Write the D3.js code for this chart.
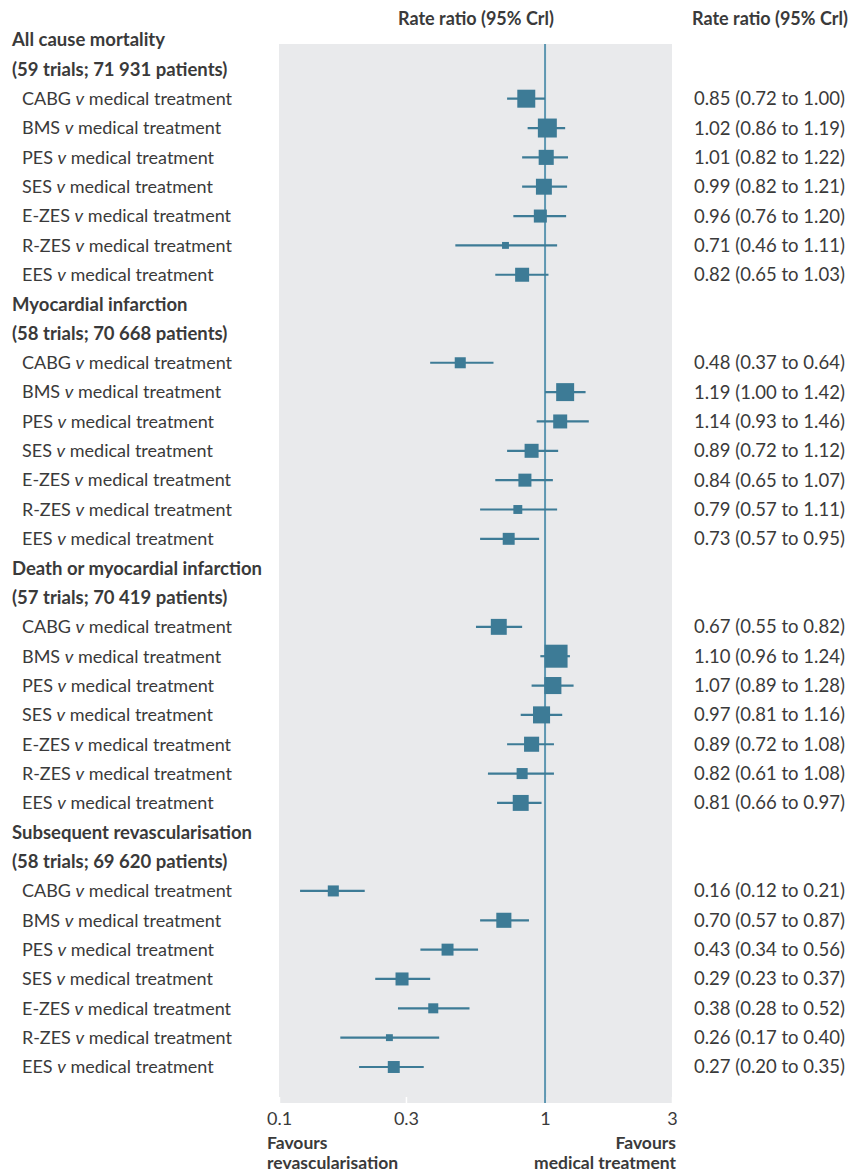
<!DOCTYPE html>
<html>
<head>
<meta charset="utf-8">
<script src="https://cdn.jsdelivr.net/npm/d3@7/dist/d3.min.js"></script>
<style>
  html, body { margin: 0; padding: 0; background: #ffffff; }
  svg { display: block; }
  text { font-family: Lato, "Noto Sans", sans-serif; fill: #3a3a3a; }
</style>
</head>
<body>
<svg id="chart" width="852" height="1173"></svg>
<script>
// Outcomes and their trial counts
const outcomes = [
  "All cause mortality",
  "Myocardial infarction",
  "Death or myocardial infarction",
  "Subsequent revascularisation"
];
const outcomeTrials = [
  "(59 trials; 71 931 patients)",
  "(58 trials; 70 668 patients)",
  "(57 trials; 70 419 patients)",
  "(58 trials; 69 620 patients)"
];
const comparisons = ["CABG", "BMS", "PES", "SES", "E-ZES", "R-ZES", "EES"];

// Rate ratios with 95% credible intervals, one array per outcome
const rrMortality = [0.85, 1.02, 1.01, 0.99, 0.96, 0.71, 0.82];
const loMortality = [0.72, 0.86, 0.82, 0.82, 0.76, 0.46, 0.65];
const hiMortality = [1.00, 1.19, 1.22, 1.21, 1.20, 1.11, 1.03];

const rrMI = [0.48, 1.19, 1.14, 0.89, 0.84, 0.79, 0.73];
const loMI = [0.37, 1.00, 0.93, 0.72, 0.65, 0.57, 0.57];
const hiMI = [0.64, 1.42, 1.46, 1.12, 1.07, 1.11, 0.95];

const rrDeathMI = [0.67, 1.10, 1.07, 0.97, 0.89, 0.82, 0.81];
const loDeathMI = [0.55, 0.96, 0.89, 0.81, 0.72, 0.61, 0.66];
const hiDeathMI = [0.82, 1.24, 1.28, 1.16, 1.08, 1.08, 0.97];

const rrRevasc = [0.16, 0.70, 0.43, 0.29, 0.38, 0.26, 0.27];
const loRevasc = [0.12, 0.57, 0.34, 0.23, 0.28, 0.17, 0.20];
const hiRevasc = [0.21, 0.87, 0.56, 0.37, 0.52, 0.40, 0.35];

// Relative weight of each estimate (drives the square area)
const wMortality = [61, 68, 43, 48, 32, 9, 37];
const wMI        = [23, 61, 37, 37, 32, 15, 27];
const wDeathMI   = [48, 100, 55, 55, 43, 23, 48];
const wRevasc    = [23, 43, 27, 32, 19, 9, 27];

const tickValues = [0.1, 0.3, 1, 3];
const tickLabels = ["0.1", "0.3", "1", "3"];

const estimates = [rrMortality, rrMI, rrDeathMI, rrRevasc];
const lowers = [loMortality, loMI, loDeathMI, loRevasc];
const uppers = [hiMortality, hiMI, hiDeathMI, hiRevasc];
const weights = [wMortality, wMI, wDeathMI, wRevasc];

// Flatten into display rows: outcome title, trial count, then comparisons
const rows = [];
outcomes.forEach((o, g) => {
  rows.push({ type: "title", text: o });
  rows.push({ type: "sub", text: outcomeTrials[g] });
  comparisons.forEach((c, i) => {
    rows.push({
      type: "item", name: c,
      rr: estimates[g][i], lo: lowers[g][i], hi: uppers[g][i], w: weights[g][i]
    });
  });
});

const svg = d3.select("#chart");
const panel = { left: 279, right: 672, top: 44, bottom: 1103 };

const x = d3.scaleLog().domain([0.1, 3]).range([panel.left, panel.right]);
const y = d3.scalePoint().domain(d3.range(rows.length)).range([40, 1067]);
const side = d3.scaleSqrt().domain([0, 100]).range([0, 23]);

const blue = "#3d7b96";
const refBlue = "#5e97b1";
const fmt = d3.format(".2f");

// Grey plotting panel
svg.append("rect")
  .attr("x", panel.left).attr("y", panel.top)
  .attr("width", panel.right - panel.left)
  .attr("height", panel.bottom - panel.top)
  .attr("fill", "#e9eaec");

// Column headings
svg.append("text")
  .attr("x", 476).attr("y", 19).attr("dy", "0.35em")
  .attr("text-anchor", "middle")
  .style("font-size", "18px").style("font-weight", 700)
  .text("Rate ratio (95% Crl)");
svg.append("text")
  .attr("x", 770).attr("y", 19).attr("dy", "0.35em")
  .attr("text-anchor", "middle")
  .style("font-size", "18px").style("font-weight", 700)
  .text("Rate ratio (95% Crl)");

// Axis with ticks along the bottom of the panel
const axis = d3.axisBottom(x)
  .tickValues(tickValues)
  .tickFormat((d, i) => tickLabels[i])
  .tickSize(6)
  .tickPadding(3);
const axisG = svg.append("g")
  .attr("transform", `translate(0,${panel.bottom})`)
  .call(axis);
axisG.select(".domain").remove();
axisG.selectAll(".tick line")
  .attr("y1", -6).attr("y2", 0)
  .attr("stroke", "#ffffff").attr("stroke-width", 1.5);
axisG.selectAll(".tick text")
  .style("font-family", "Lato, 'Noto Sans', sans-serif")
  .style("font-size", "18px")
  .attr("fill", "#3a3a3a");

// Line of no effect
svg.append("line")
  .attr("x1", x(1)).attr("x2", x(1))
  .attr("y1", panel.top).attr("y2", panel.bottom)
  .attr("stroke", refBlue).attr("stroke-width", 2);

// Row labels
rows.forEach((r, i) => {
  const yy = y(i);
  if (r.type === "title" || r.type === "sub") {
    svg.append("text")
      .attr("x", 12).attr("y", yy).attr("dy", "0.35em")
      .style("font-size", "18.5px").style("font-weight", 700)
      .text(r.text);
  } else {
    const t = svg.append("text")
      .attr("x", 22).attr("y", yy).attr("dy", "0.35em")
      .style("font-size", "18px");
    t.append("tspan").text(r.name + " ");
    t.append("tspan").style("font-style", "italic").text("v");
    t.append("tspan").text(" medical treatment");

    svg.append("text")
      .attr("x", 694).attr("y", yy).attr("dy", "0.35em")
      .style("font-size", "18.5px")
      .text(`${fmt(r.rr)} (${fmt(r.lo)} to ${fmt(r.hi)})`);
  }
});

// Credible intervals and point estimates
const items = rows.map((r, i) => Object.assign({ i }, r)).filter(r => r.type === "item");
const marks = svg.append("g");
marks.selectAll("line.ci")
  .data(items).join("line")
  .attr("class", "ci")
  .attr("x1", d => x(d.lo)).attr("x2", d => x(d.hi))
  .attr("y1", d => y(d.i)).attr("y2", d => y(d.i))
  .attr("stroke", blue).attr("stroke-width", 2.2);
marks.selectAll("rect.est")
  .data(items).join("rect")
  .attr("class", "est")
  .attr("x", d => x(d.rr) - side(d.w) / 2)
  .attr("y", d => y(d.i) - side(d.w) / 2)
  .attr("width", d => side(d.w))
  .attr("height", d => side(d.w))
  .attr("fill", blue);

// Direction labels under the axis
const dir = [
  { text: "Favours", x: 267, y: 1143, anchor: "start" },
  { text: "revascularisation", x: 267, y: 1163, anchor: "start" },
  { text: "Favours", x: 676, y: 1143, anchor: "end" },
  { text: "medical treatment", x: 676, y: 1163, anchor: "end" }
];
svg.selectAll("text.dir")
  .data(dir).join("text")
  .attr("class", "dir")
  .attr("x", d => d.x).attr("y", d => d.y).attr("dy", "0.35em")
  .attr("text-anchor", d => d.anchor)
  .style("font-size", "17.5px").style("font-weight", 700)
  .text(d => d.text);
</script>
</body>
</html>
